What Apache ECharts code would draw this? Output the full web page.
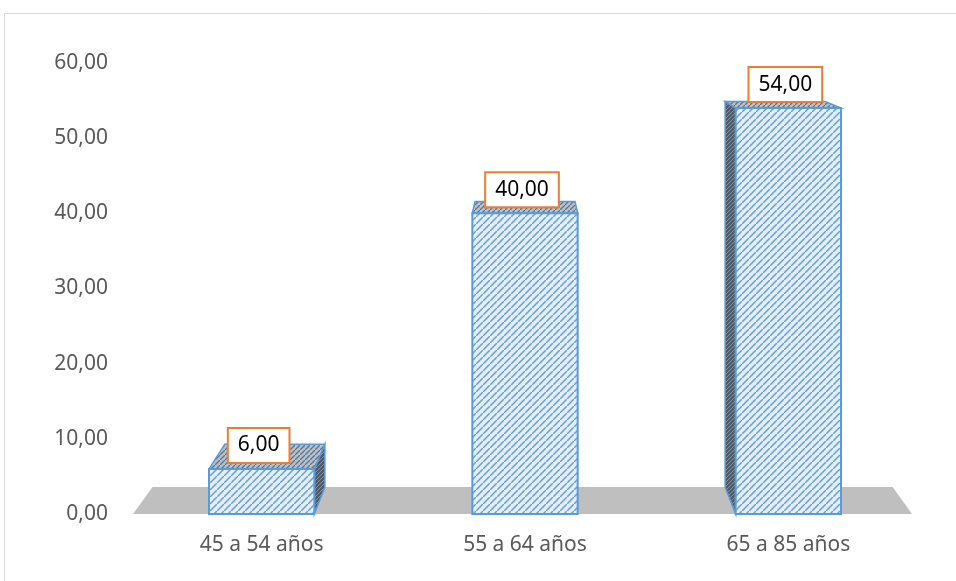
<!DOCTYPE html>
<html>
<head>
<meta charset="utf-8">
<script src="https://cdn.jsdelivr.net/npm/echarts@6/dist/echarts.min.js"></script>
<style>
  html, body { margin: 0; padding: 0; background: #fff; }
  #chart { width: 956px; height: 581px; }
</style>
</head>
<body>
<div id="chart"></div>
<script>
// data
const categories = ['45 a 54 años', '55 a 64 años', '65 a 85 años']
const values = [6, 40, 54]
const yMin = 0
const yMax = 60
const yStep = 10

// hatched fills, built once on small canvases
function makeHatch(bg, line, step, lw) {
  const c = document.createElement('canvas')
  c.width = c.height = step
  const g = c.getContext('2d')
  g.fillStyle = bg
  g.fillRect(0, 0, step, step)
  g.strokeStyle = line
  g.lineWidth = lw
  g.beginPath()
  g.moveTo(-step, step * 2); g.lineTo(step * 2, -step)
  g.moveTo(-step * 2, step); g.lineTo(step, -step * 2)
  g.moveTo(0, step * 3); g.lineTo(step * 3, 0)
  g.stroke()
  return { image: c, repeat: 'repeat' }
}
const frontFill = makeHatch('#e2eef9', '#6a9fd6', 7, 1.5)
const topFill = makeHatch('#b6c2cf', '#5f7287', 5, 1.3)
const sideFill = makeHatch('#4f5b69', '#8493a4', 4, 1)

const EDGE = '#5b9bd5'
const DEPTH = 0.05 // share of the way toward the vanishing point

function vanish(cs) {
  return [cs.x + cs.width / 2, cs.y - 88]
}

function renderFloor(params, api) {
  const cs = params.coordSys
  const v = vanish(cs)
  const yb = api.coord([0, 0])[1]
  const back = p => [p[0] + (v[0] - p[0]) * DEPTH, p[1] + (v[1] - p[1]) * DEPTH]
  const a = [cs.x + 3, yb]
  const b = [cs.x + cs.width - 8, yb]
  return {
    type: 'polygon',
    shape: { points: [a, b, back(b), back(a)] },
    style: { fill: '#bfbfbf' }
  }
}

function renderBar(params, api) {
  const cs = params.coordSys
  const v = vanish(cs)
  const base = api.coord([api.value(0), 0])
  const top = api.coord([api.value(0), api.value(1)])
  const w = api.size([1, 0])[0] * 0.4
  const x0 = base[0] - w / 2
  const x1 = base[0] + w / 2
  const yb = base[1]
  const yt = top[1]
  const back = p => [p[0] + (v[0] - p[0]) * DEPTH, p[1] + (v[1] - p[1]) * DEPTH]
  const children = []
  if (x1 < v[0]) {
    children.push({
      type: 'polygon',
      shape: { points: [[x1, yt], [x1, yb], back([x1, yb]), back([x1, yt])] },
      style: { fill: sideFill, stroke: EDGE, lineWidth: 1.5 }
    })
  } else if (x0 > v[0]) {
    children.push({
      type: 'polygon',
      shape: { points: [[x0, yt], [x0, yb], back([x0, yb]), back([x0, yt])] },
      style: { fill: sideFill, stroke: EDGE, lineWidth: 1.5 }
    })
  }
  children.push({
    type: 'polygon',
    shape: { points: [[x0, yt], [x1, yt], back([x1, yt]), back([x0, yt])] },
    style: { fill: topFill, stroke: EDGE, lineWidth: 1.5 }
  })
  children.push({
    type: 'rect',
    shape: { x: x0, y: yt, width: w, height: yb - yt },
    style: { fill: frontFill, stroke: EDGE, lineWidth: 2 }
  })
  children.push({
    type: 'text',
    x: base[0] - 3,
    y: yt - 7,
    style: {
      text: api.value(1).toFixed(2).replace('.', ','),
      font: '21px "Noto Sans"',
      fill: '#000',
      align: 'center',
      verticalAlign: 'bottom',
      backgroundColor: '#fff',
      borderColor: '#ed7d31',
      borderWidth: 2,
      padding: [6, 9, 6, 9]
    }
  })
  return { type: 'group', children }
}

const chart = echarts.init(document.getElementById('chart'))
chart.setOption({
  animation: false,
  backgroundColor: '#fff',
  textStyle: { fontFamily: 'Noto Sans' },
  graphic: [{
    type: 'rect',
    shape: { x: 4.5, y: 13.5, width: 1000, height: 1000 },
    style: { fill: 'none', stroke: '#d9d9d9', lineWidth: 1 },
    silent: true
  }],
  grid: { left: 130, right: 36, top: 63, bottom: 67 },
  xAxis: {
    type: 'category',
    data: categories,
    axisLine: { show: false },
    axisTick: { show: false },
    axisLabel: { color: '#595959', fontSize: 21, margin: 21 }
  },
  yAxis: {
    type: 'value',
    min: yMin,
    max: yMax,
    interval: yStep,
    axisLine: { show: false },
    axisTick: { show: false },
    splitLine: { show: false },
    axisLabel: {
      color: '#595959',
      fontSize: 21,
      margin: 22,
      formatter: val => val.toFixed(2).replace('.', ',')
    }
  },
  series: [
    {
      type: 'custom',
      renderItem: renderFloor,
      data: [[0, 0]],
      z: 1,
      silent: true
    },
    {
      type: 'custom',
      renderItem: renderBar,
      data: values.map((val, i) => [i, val]),
      z: 2
    }
  ]
})
</script>
</body>
</html>
